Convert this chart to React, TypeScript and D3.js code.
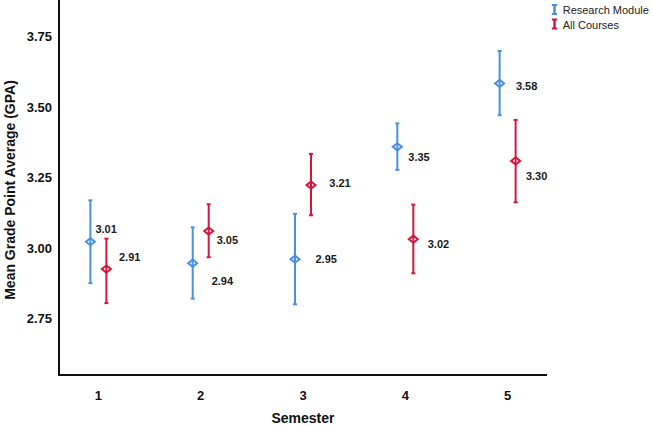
import React from "react";
import * as d3 from "d3";

const semesters = ["1", "2", "3", "4", "5"];
const seriesNames = ["Research Module", "All Courses"];
const researchMean = [3.023, 2.947, 2.961, 3.36, 3.585];
const researchLower = [2.876, 2.821, 2.801, 3.278, 3.472];
const researchUpper = [3.17, 3.074, 3.122, 3.443, 3.7];
const researchLabels = ["3.01", "2.94", "2.95", "3.35", "3.58"];
const allMean = [2.926, 3.061, 3.224, 3.032, 3.31];
const allLower = [2.805, 2.968, 3.117, 2.911, 3.163];
const allUpper = [3.034, 3.156, 3.335, 3.155, 3.455];
const allLabels = ["2.91", "3.05", "3.21", "3.02", "3.30"];
const yTicks = [2.75, 3.0, 3.25, 3.5, 3.75];

// label placement offsets (layout only)
const researchLabelOffsets: [number, number][] = [
  [5, -13], [19, 18], [20.5, -0.5], [11, 10], [16.3, 2.7],
];
const allLabelOffsets: [number, number][] = [
  [12.6, -12], [8, 9], [18.3, -1.7], [14.4, 4.7], [10.3, 15.3],
];

const W = 652;
const H = 425;
const FONT = "'Liberation Sans', Arial, sans-serif";
const BLUE = "#4a90e2";
const RED = "#d4173d";

export default function App() {
  const x = d3.scalePoint<string>().domain(semesters).range([59, 547]).padding(0.385);
  const y = d3.scaleLinear().domain([2.55, 3.881]).range([375, 0]);
  const off = 8;

  const series = [
    { name: seriesNames[0], color: BLUE, mean: researchMean, lo: researchLower, hi: researchUpper, labels: researchLabels, offs: researchLabelOffsets, dx: -off },
    { name: seriesNames[1], color: RED, mean: allMean, lo: allLower, hi: allUpper, labels: allLabels, offs: allLabelOffsets, dx: off },
  ];

  const diamond = (cx: number, cy: number, rx: number, ry: number) =>
    `M${cx},${cy - ry}L${cx + rx},${cy}L${cx},${cy + ry}L${cx - rx},${cy}Z`;

  return (
    <div style={{ position: "absolute", left: 0, top: 0 }}>
      <svg width={W} height={H} style={{ display: "block", background: "#fff" }} fontFamily={FONT}>
        <rect width={W} height={H} fill="#fff" />
        {/* axes */}
        <line x1={59} x2={59} y1={0} y2={376} stroke="#111" strokeWidth={2} />
        <line x1={58} x2={547} y1={375} y2={375} stroke="#111" strokeWidth={2} />
        {yTicks.map((t) => (
          <text key={t} x={52} y={y(t)} dy="0.35em" textAnchor="end" fontSize={13} fontWeight="bold" fill="#111">
            {t.toFixed(2)}
          </text>
        ))}
        {semesters.map((s) => (
          <text key={s} x={x(s)} y={400} textAnchor="middle" fontSize={13} fontWeight="bold" fill="#111">
            {s}
          </text>
        ))}
        <text x={303} y={423} textAnchor="middle" fontSize={14} fontWeight="bold" fill="#111">
          Semester
        </text>
        <text transform={`translate(15,190) rotate(-90)`} textAnchor="middle" fontSize={14} fontWeight="bold" fill="#111">
          Mean Grade Point Average (GPA)
        </text>

        {/* series */}
        {series.map((se) => (
          <g key={se.name}>
            {semesters.map((s, i) => {
              const cx = (x(s) as number) + se.dx;
              const cy = y(se.mean[i]);
              const yl = y(se.lo[i]);
              const yh = y(se.hi[i]);
              return (
                <g key={s}>
                  <line x1={cx} x2={cx} y1={yh} y2={yl} stroke={se.color} strokeWidth={2} />
                  <line x1={cx - 2} x2={cx + 2} y1={yh} y2={yh} stroke={se.color} strokeWidth={2} />
                  <line x1={cx - 2} x2={cx + 2} y1={yl} y2={yl} stroke={se.color} strokeWidth={2} />
                  <path d={diamond(cx, cy, 4.5, 3.6)} fill="none" stroke={se.color} strokeWidth={2} />
                  <text
                    x={cx + se.offs[i][0]}
                    y={cy + se.offs[i][1]}
                    dy="0.35em"
                    fontSize={11}
                    fontWeight="bold"
                    fill="#1a1a1a"
                  >
                    {se.labels[i]}
                  </text>
                </g>
              );
            })}
          </g>
        ))}

        {/* legend */}
        {series.map((se, i) => {
          const ly = 9.5 + i * 14.5;
          return (
            <g key={se.name}>
              <line x1={554.5} x2={554.5} y1={ly - 5} y2={ly + 5} stroke={se.color} strokeWidth={2.5} />
              <line x1={551.8} x2={557.2} y1={ly - 4.5} y2={ly - 4.5} stroke={se.color} strokeWidth={2} />
              <line x1={551.8} x2={557.2} y1={ly + 4.5} y2={ly + 4.5} stroke={se.color} strokeWidth={2} />
              <text x={562.7} y={ly + 4.5} fontSize={11} fill="#222">
                {se.name}
              </text>
            </g>
          );
        })}
      </svg>
    </div>
  );
}
